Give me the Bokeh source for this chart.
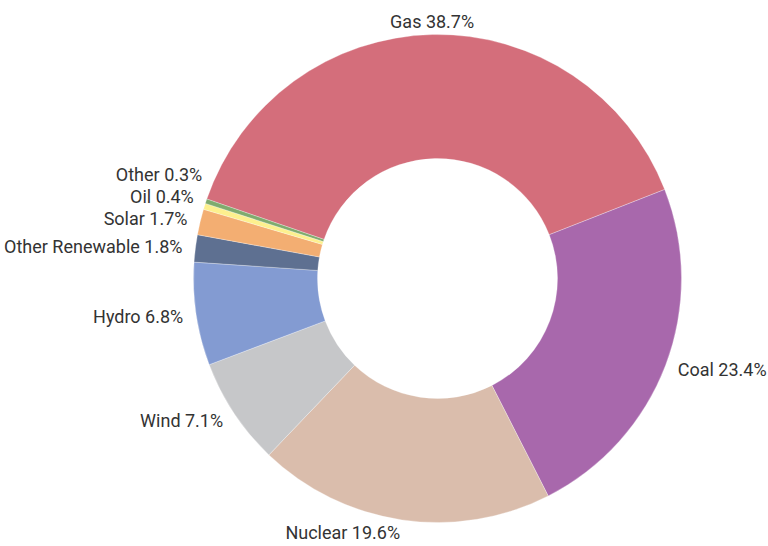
import math
from bokeh.plotting import figure
from bokeh.models import ColumnDataSource, Range1d
from bokeh.core.properties import value
from bokeh.embed import file_html
from bokeh.resources import INLINE

categories = ["Gas", "Coal", "Nuclear", "Wind", "Hydro", "Other Renewable", "Solar", "Oil", "Other"]
shares = [38.7, 23.4, 19.6, 7.1, 6.8, 1.8, 1.7, 0.4, 0.3]
colors = ["#d46e7b", "#a868ac", "#dabdac", "#c6c7c9", "#839bd2", "#5e7091", "#f3ae72", "#fdf08e", "#7fab6e"]

W, H = 768, 546
cx, cy = 437, 268
r_out, r_in = 244, 120
r_lab = 257
start_deg = 161.0
FONT = "Roboto"

total = sum(shares)
starts, ends, mids = [], [], []
acc = 0.0
for s in shares:
    a0 = start_deg - acc / total * 360.0
    acc += s
    a1 = start_deg - acc / total * 360.0
    starts.append(math.radians(a0))
    ends.append(math.radians(a1))
    mids.append(math.radians((a0 + a1) / 2))

src = ColumnDataSource(dict(cat=categories, start=starts, end=ends, color=colors))

p = figure(width=W, height=H, output_backend="svg", toolbar_location=None,
           x_range=Range1d(0, W), y_range=Range1d(0, H), min_border=0,
           background_fill_color="white", border_fill_color="white")
p.axis.visible = False
p.grid.visible = False
p.outline_line_color = None

p.annular_wedge(x=cx, y=cy, inner_radius=r_in, outer_radius=r_out,
                start_angle="start", end_angle="end", direction="clock",
                fill_color="color", line_color="white", line_width=0.3, source=src)

# label positions
lx, ly, align, base = [], [], [], []
for m in mids:
    c, s = math.cos(m), math.sin(m)
    lx.append(cx + r_lab * c)
    ly.append(cy + r_lab * s)
    if abs(c) < 0.05:
        align.append("center")
    elif c > 0:
        align.append("left")
    else:
        align.append("right")
    base.append("middle")

# de-overlap left-side labels (push upward)
gap = 22
left_idx = [i for i, a in enumerate(align) if a == "right"]
left_idx.sort(key=lambda i: ly[i])  # bottom to top
for k in range(1, len(left_idx)):
    i_prev, i = left_idx[k - 1], left_idx[k]
    if ly[i] - ly[i_prev] < gap:
        ly[i] = ly[i_prev] + gap
        dy = ly[i] - cy
        lx[i] = cx - math.sqrt(max(r_lab ** 2 - dy ** 2, 0))

labels = [f"{c} {v}%" for c, v in zip(categories, shares)]
lsrc = ColumnDataSource(dict(x=lx, y=ly, text=labels, align=align, base=base))
p.text(x="x", y="y", text="text", text_align="align", text_baseline="base",
       text_font=value(FONT), text_font_size="18px", text_color="#333333", source=lsrc)

open("out.html", "w").write(file_html(p, INLINE))
